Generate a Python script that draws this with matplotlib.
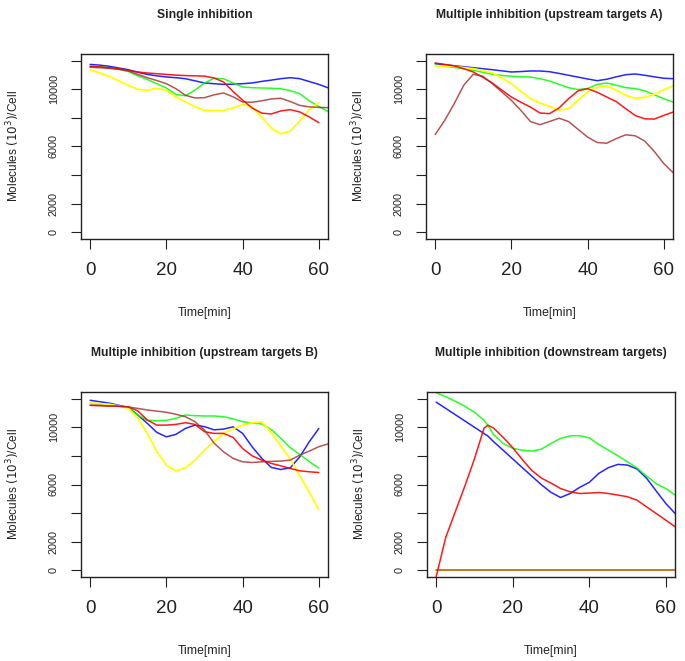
import numpy as np
import matplotlib
matplotlib.use("Agg")
import matplotlib.pyplot as plt

nan = np.nan

# time grid (minutes)
time_grid = [0, 2.5, 5, 7.5, 10, 12.5, 15, 17.5, 20, 22.5, 25, 27.5, 30,
             32.5, 35, 37.5, 40, 42.5, 45, 47.5, 50, 52.5, 55, 57.5, 60, 62.5]
# panel 4 has an extra point at the red peak
time_down = [0, 2.5, 5, 7.5, 10, 12.5, 13.5, 15, 17.5, 20, 22.5, 25, 27.5, 30,
             32.5, 35, 37.5, 40, 42.5, 45, 47.5, 50, 52.5, 55, 57.5, 60, 62.5]

titles = ["Single inhibition",
          "Multiple inhibition (upstream targets A)",
          "Multiple inhibition (upstream targets B)",
          "Multiple inhibition (downstream targets)"]

# --- Single inhibition
blue1 = [11750, 11700, 11620, 11500, 11380, 11200, 11050, 10950, 10870, 10820, 10750, 10600, 10450,
         10400, 10350, 10370, 10400, 10450, 10560, 10650, 10750, 10820, 10750, 10550, 10350, 10100]
green1 = [11650, 11600, 11520, 11420, 11250, 10950, 10700, 10400, 10100, 9650, 9550, 9950, 10450,
          10780, 10750, 10450, 10170, 10120, 10100, 10080, 10050, 9920, 9700, 9200, 8800, 8450]
yellow1 = [11380, 11150, 10920, 10600, 10290, 10000, 9940, 10080, 9930, 9470, 9120, 8800, 8530,
           8520, 8530, 8700, 8950, 8760, 8060, 7300, 6890, 7080, 7800, 8600, 9050, nan]
red1 = [11600, 11580, 11520, 11450, 11330, 11220, 11150, 11100, 11050, 11000, 10970, 10950, 10930,
        10800, 10520, 9850, 9250, 8700, 8340, 8280, 8490, 8580, 8420, 8070, 7670, nan]
brown1 = [11550, 11520, 11470, 11400, 11300, 11050, 10820, 10620, 10400, 10050, 9590, 9400, 9420,
          9620, 9750, 9480, 9120, 9100, 9200, 9330, 9380, 9150, 8880, 8780, 8740, 8720]

# --- Multiple inhibition (upstream targets A)
blue2 = [11800, 11730, 11660, 11590, 11520, 11450, 11380, 11300, 11220, 11250, 11290, 11290, 11240,
         11120, 10990, 10860, 10730, 10610, 10710, 10880, 11030, 11080, 10990, 10880, 10780, 10750]
green2 = [11700, 11620, 11540, 11450, 11340, 11200, 11060, 10980, 10920, 10890, 10870, 10750, 10590,
          10350, 10120, 9990, 10070, 10350, 10450, 10300, 10120, 10060, 9900, 9620, 9350, 9100]
yellow2 = [11650, 11630, 11600, 11530, 11450, 11320, 11160, 10800, 10400, 9870, 9350, 9050, 8810,
           8550, 8650, 9250, 9820, 10130, 10250, 9950, 9590, 9380, 9450, 9650, 9980, 10250]
red2 = [11850, 11750, 11640, 11450, 11220, 10850, 10450, 9950, 9470, 9100, 8760, 8350, 8300,
        8700, 9350, 9900, 10050, 9800, 9470, 9150, 8650, 8170, 7940, 7920, 8180, 8420]
brown2 = [6830, 7830, 9000, 10290, 11060, 10920, 10400, 9820, 9230, 8530, 7750, 7530, 7750,
          7980, 7750, 7200, 6660, 6280, 6230, 6550, 6820, 6750, 6380, 5650, 4800, 4150]

# --- Multiple inhibition (upstream targets B)
blue3 = [11900, 11800, 11700, 11550, 11390, 10870, 10280, 9650, 9340, 9510, 9930, 10160, 10050,
         9830, 9880, 10040, 9580, 8640, 7840, 7200, 7050, 7170, 7940, 9000, 9930, nan]
green3 = [11700, 11650, 11600, 11500, 11390, 10870, 10490, 10470, 10490, 10640, 10870, 10820, 10800,
          10800, 10750, 10600, 10400, 10300, 10250, 9850, 9250, 8580, 8100, 7600, 7150, nan]
yellow3 = [11700, 11660, 11620, 11500, 11340, 10640, 9580, 8300, 7360, 6960, 7170, 7710, 8410,
           9000, 9580, 9900, 10160, 10330, 10380, 9650, 8700, 7800, 6600, 5450, 4250, nan]
red3 = [11550, 11530, 11500, 11480, 11450, 11150, 10520, 10160, 10160, 10210, 10330, 10210, 9700,
        9580, 9580, 9300, 8520, 8010, 7710, 7480, 7310, 7120, 6960, 6890, 6840, nan]
brown3 = [11550, 11530, 11500, 11470, 11430, 11330, 11220, 11140, 11060, 10920, 10750, 10400, 9810,
          8900, 8290, 7830, 7590, 7540, 7590, 7620, 7640, 7710, 8060, 8340, 8650, 8850]

# --- Multiple inhibition (downstream targets)
blue4 = [11770, 11330, 10890, 10450, 10010, 9570, 9400, 9000, 8400, 7790, 7180, 6580, 5980, 5450,
         5090, 5370, 5800, 6150, 6780, 7180, 7410, 7360, 7080, 6430, 5540, 4670, 3950]
green4 = [12430, 12150, 11830, 11480, 11060, 10500, 10150, 9500, 8880, 8530, 8410, 8340, 8480, 8880,
          9230, 9410, 9420, 9270, 8800, 8410, 8010, 7590, 7150, 6590, 6050, 5720, 5250]
yellow4 = [0] * len(time_down)
red4 = [-450, 2300, 4100, 5900, 7800, 9950, 10150, 9950, 9300, 8580, 7750, 6980, 6450, 6100,
        5720, 5490, 5370, 5400, 5440, 5370, 5260, 5140, 4900, 4430, 3970, 3500, 3030]
brown4 = [0] * len(time_down)

panels = [
    (time_grid, [blue1, green1, yellow1, red1, brown1]),
    (time_grid, [blue2, green2, yellow2, red2, brown2]),
    (time_grid, [blue3, green3, yellow3, red3, brown3]),
    (time_down, [blue4, green4, yellow4, red4, brown4]),
]
line_colors = ["#0000FF", "#00FF00", "#FFFF00", "#FF0000", "#A52A2A"]
line_alpha = [0.85, 0.85, 1.0, 0.9, 0.8]
line_width = [1.1, 1.1, 1.3, 1.1, 1.1]

plt.rcParams["font.family"] = ["Liberation Sans", "DejaVu Sans"]
text_col = "#222222"

fig = plt.figure(figsize=(6.85, 6.61), dpi=100)
positions = [
    [81 / 685, 1 - 239 / 661, 247 / 685, 185 / 661],
    [426 / 685, 1 - 239 / 661, 247 / 685, 185 / 661],
    [81 / 685, 1 - 577 / 661, 247 / 685, 185 / 661],
    [427 / 685, 1 - 577 / 661, 248 / 685, 185 / 661],
]

yticks = [0, 2000, 4000, 6000, 8000, 10000, 12000]
ytick_labels = ["0", "2000", "", "6000", "", "10000", ""]
xticks = [0, 20, 40, 60]

for pos, title, (t, series) in zip(positions, titles, panels):
    ax = fig.add_axes(pos)
    for vals, col, a, lw in zip(series, line_colors, line_alpha, line_width):
        ax.plot(t, vals, color=col, lw=lw, alpha=a, solid_capstyle="round")
    ax.set_xlim(-2.4, 62.4)
    ax.set_ylim(-480, 12480)
    ax.set_xticks(xticks)
    ax.set_xticklabels([str(x) for x in xticks], fontsize=13.5)
    ax.set_yticks(yticks)
    ax.set_yticklabels(ytick_labels, fontsize=7.8, rotation=90, va="center")
    ax.tick_params(axis="x", direction="out", length=7, width=0.8, pad=9.5, colors=text_col)
    ax.tick_params(axis="y", direction="out", length=7, width=0.8, pad=9, colors=text_col)
    for sp in ax.spines.values():
        sp.set_linewidth(1.0)
        sp.set_color(text_col)
    ax.set_title(title, fontsize=8.7, fontweight="bold", y=1.15, color=text_col)
    ax.set_xlabel("Time[min]", fontsize=8.8, color=text_col)
    ax.xaxis.set_label_coords(0.5, -0.365)
    ax.set_ylabel("Molecules $(10^3)$/Cell", fontsize=8.6, color=text_col)
    ax.yaxis.label.set_va("center")
    ax.yaxis.set_label_coords(-0.275, 0.5)

fig.savefig("out.png", dpi=100)
